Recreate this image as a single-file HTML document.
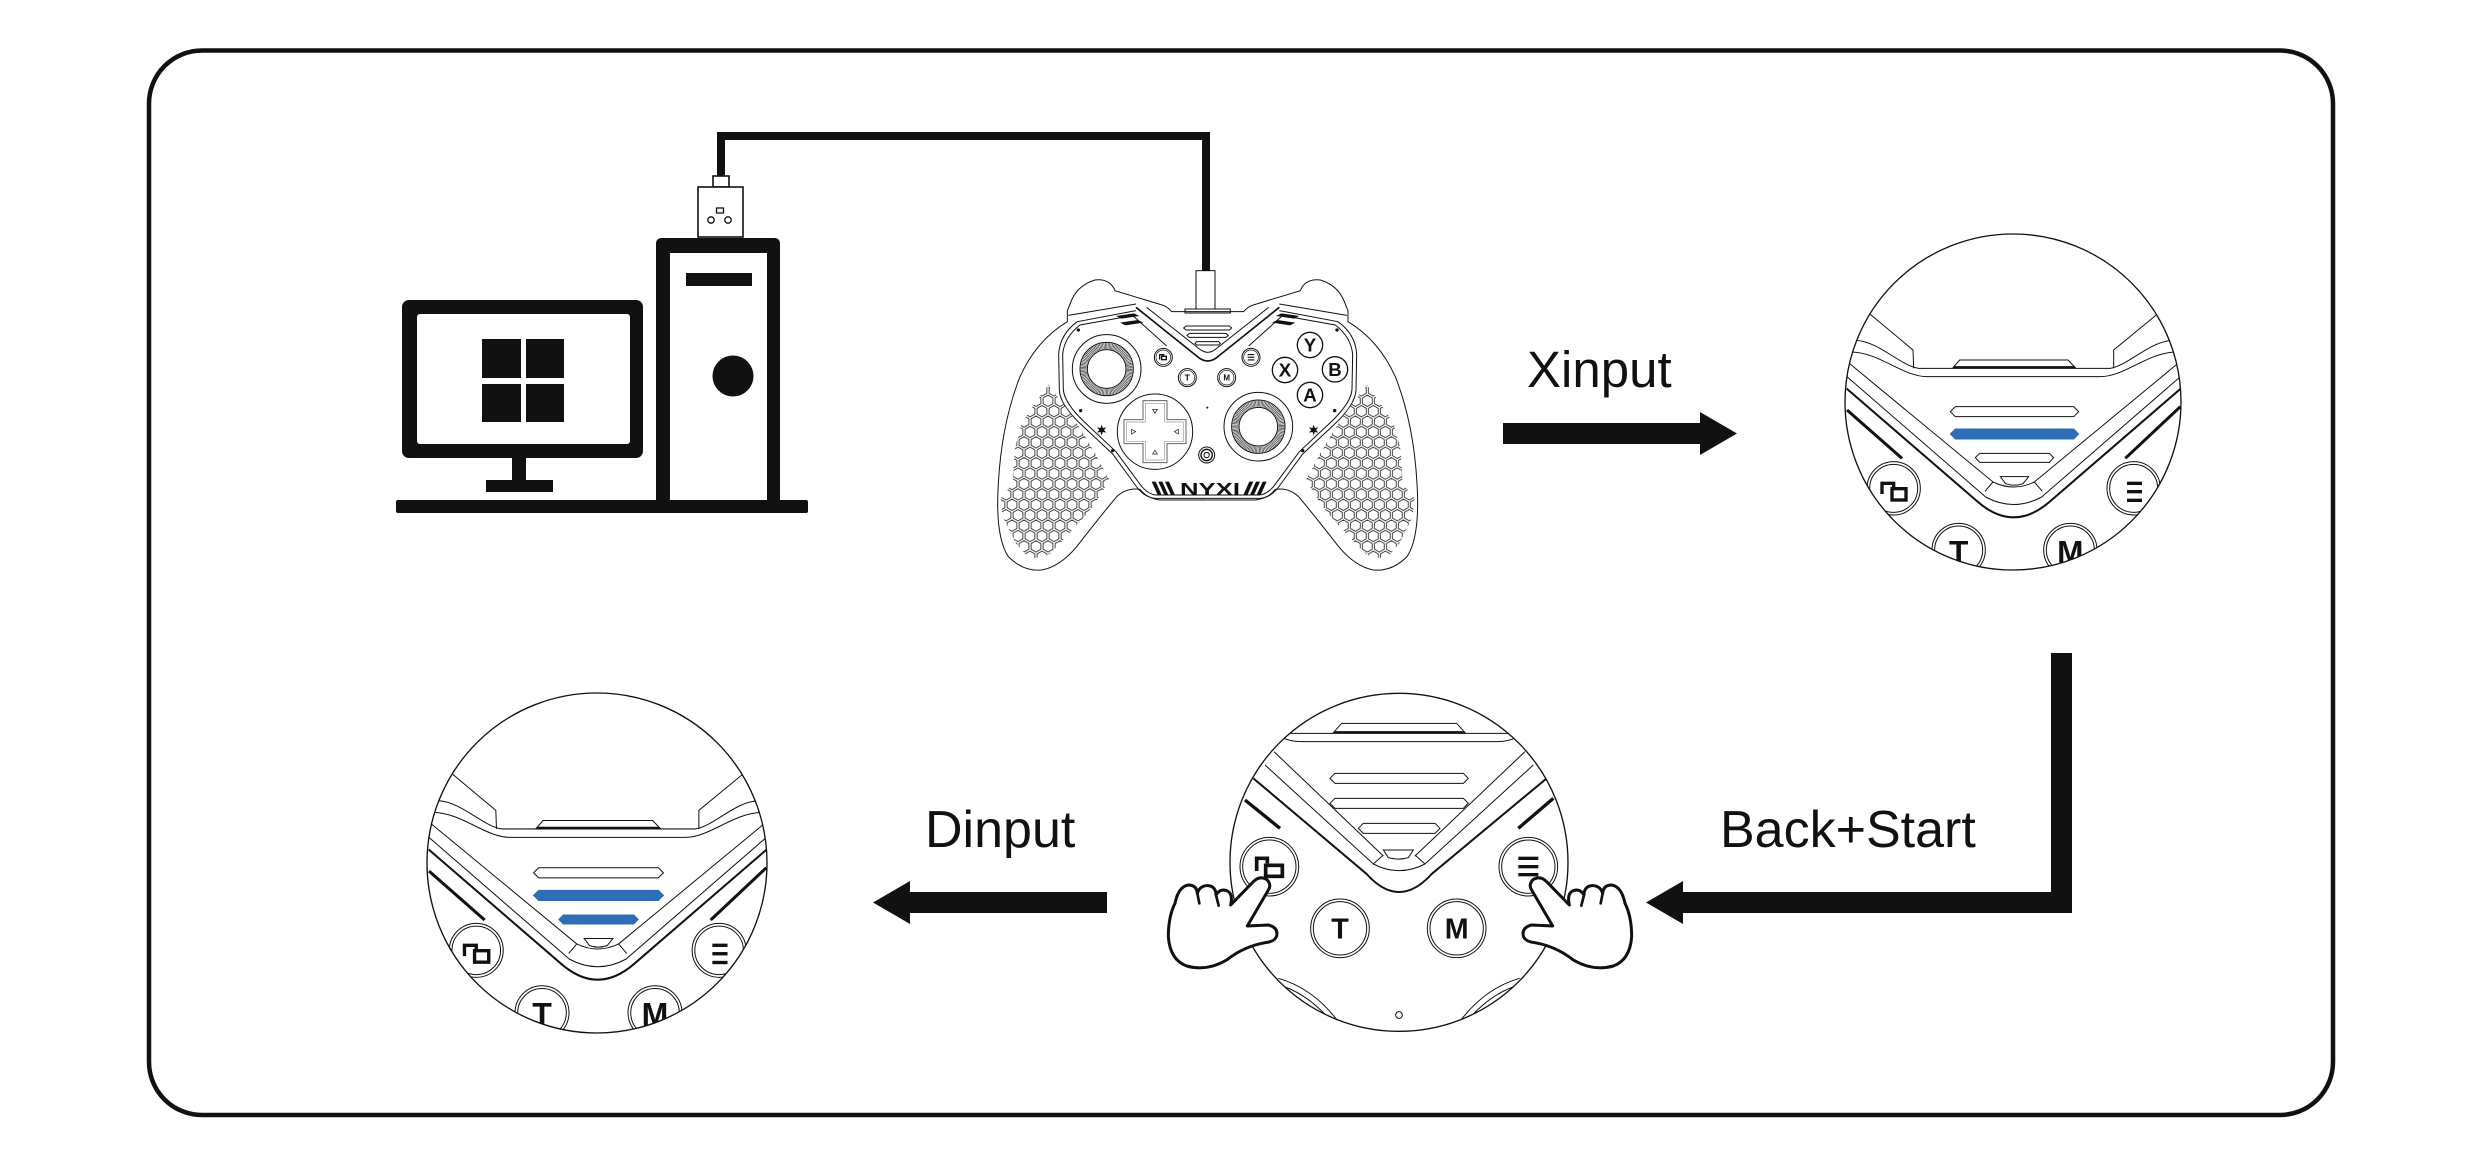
<!DOCTYPE html>
<html>
<head>
<meta charset="utf-8">
<style>
html,body{margin:0;padding:0;background:#fff;}
svg{display:block;}
text{font-family:"Liberation Sans",Arial,sans-serif;}
</style>
</head>
<body>
<svg width="2481" height="1166" viewBox="0 0 2481 1166" xmlns="http://www.w3.org/2000/svg">
<defs>
  <pattern id="hex" x="6" y="0" width="36" height="62.4" patternUnits="userSpaceOnUse">
    <g fill="#fff" stroke="#222" stroke-width="2.5">
      <path transform="translate(18,15.6)" d="M0,-17 L14.7,-8.5 L14.7,8.5 L0,17 L-14.7,8.5 L-14.7,-8.5Z"/>
      <path transform="translate(18,78)" d="M0,-17 L14.7,-8.5 L14.7,8.5 L0,17 L-14.7,8.5 L-14.7,-8.5Z"/>
      <path transform="translate(0,46.8)" d="M0,-17 L14.7,-8.5 L14.7,8.5 L0,17 L-14.7,8.5 L-14.7,-8.5Z"/>
      <path transform="translate(36,46.8)" d="M0,-17 L14.7,-8.5 L14.7,8.5 L0,17 L-14.7,8.5 L-14.7,-8.5Z"/>
      <path transform="translate(0,-15.6)" d="M0,-17 L14.7,-8.5 L14.7,8.5 L0,17 L-14.7,8.5 L-14.7,-8.5Z"/>
      <path transform="translate(36,-15.6)" d="M0,-17 L14.7,-8.5 L14.7,8.5 L0,17 L-14.7,8.5 L-14.7,-8.5Z"/>
    </g>
  </pattern>
  <clipPath id="cc"><circle cx="0" cy="0" r="504"/></clipPath>
  <clipPath id="cc5"><circle cx="747" cy="577" r="507"/></clipPath>

  <g id="det" fill="none" stroke="#111" stroke-width="3">
    <path d="M-428,-263 L-300,-156 L-298,-101"/>
    <path d="M432,-263 L302,-156 L302,-101"/>
    <path d="M-470,-185 C-400,-180 -340,-110 -283,-101 H292 C347,-110 407,-180 477,-185"/>
    <path d="M-484,-150 C-400,-148 -330,-76 -258,-76 H262 C334,-76 404,-148 488,-150"/>
    <polygon points="-180,-103 -160,-126 165,-126 187,-103"/>
    <path d="M-177,-104 H184" stroke-width="7"/>
    <path d="M-490,-115 L-60,240 Q2,270 64,240 L494,-115"/>
    <path d="M-497,-75 L-82,285 Q2,330 86,285 L501,-75"/>
    <path d="M-499,-40 L-105,300 Q2,392 109,300 L503,-40" stroke-width="6"/>
    <path d="M-60,240 L-84,268 M64,240 L88,268"/>
    <path d="M-498,24 L-333,169 M502,14 L337,169" stroke-width="9"/>
    <polygon points="-173,14 182,14 197,29 182,44 -173,44 -188,29"/>
    <polygon points="-173,81 182,81 197,96 182,111 -173,111 -188,96" fill="#2e6eb5" stroke="#2e6eb5"/>
    <path d="M-38,224 H47 L30,245 Q4,254 -22,245 Z"/>
    <g fill="#fff">
      <circle cx="-358" cy="259" r="80"/><circle cx="-358" cy="259" r="72"/>
      <circle cx="362" cy="259" r="80"/><circle cx="362" cy="259" r="72"/>
      <circle cx="-163" cy="444" r="80"/><circle cx="-163" cy="444" r="72"/>
      <circle cx="172" cy="444" r="80"/><circle cx="172" cy="444" r="72"/>
    </g>
    <path d="M-393,276 V244 H-358 V258" stroke-width="10"/>
    <rect x="-363" y="260" width="42" height="34" stroke-width="10"/>
    <g fill="#111" stroke="none">
      <rect x="342" y="239" width="45" height="10"/>
      <rect x="342" y="264" width="45" height="10"/>
      <rect x="342" y="290" width="45" height="10"/>
      <text x="-163" y="482" font-size="95" font-weight="bold" text-anchor="middle">T</text>
      <text x="172" y="482" font-size="95" font-weight="bold" text-anchor="middle">M</text>
    </g>
  </g>

  <g id="hand">
    <path d="M45,190 Q55,140 85,135 Q110,135 112,160 Q120,135 145,137 Q168,140 168,165 Q180,145 200,152 Q220,160 212,195 L280,125 Q300,105 322,120 Q335,135 325,150 L262,258 L325,255 Q355,262 350,288 Q345,305 315,308 Q250,320 200,360 Q140,395 80,378 Q30,360 25,290 Q25,230 45,190 Z" fill="#fff" stroke="#111" stroke-width="9" stroke-linejoin="round"/>
    <path d="M112,160 L118,190 M168,165 L176,197" fill="none" stroke="#111" stroke-width="8" stroke-linecap="round"/>
  </g>

  <g id="ch" fill="none" stroke="#111" stroke-width="3">
    <path d="M683,185 L575,185 Q562,168 540,163 L405,122 Q390,85 345,90 Q295,105 275,150 L262,182 L262,215 Q170,270 120,380 Q65,520 55,700 Q45,860 85,920 Q130,965 185,960 Q240,950 290,890 Q360,800 410,740 Q440,712 480,718 Q500,745 540,750 L683,750"/>
    <path d="M265,196 L468,162"/>
    <path d="M683,745 L525,745 Q492,742 468,708 L398,612 L305,525 Q240,465 238,420 L236,312 Q240,252 292,215 L468,182"/>
    <path d="M683,735 L528,735 Q500,732 478,700 L408,605 L315,518 Q252,458 250,418 L248,314 Q252,262 300,225 L468,195"/>
    <path d="M462,200 L560,288"/>
    <polygon points="205,405 245,455 300,535 345,610 388,690 345,762 300,815 250,870 205,915 150,928 108,880 68,800 62,745 98,700 104,600 125,520 168,455" fill="url(#hex)" stroke="none"/>
    <path d="M408,198 L462,190 L478,198 L424,206 Z M420,218 L474,210 L490,218 L436,226 Z" fill="#111" stroke="none"/>
    <path transform="translate(365,540)" d="M0,-16 L3.5,-6.06 L13.86,-8 L7,0 L13.86,8 L3.5,6.06 L0,16 L-3.5,6.06 L-13.86,8 L-7,0 L-13.86,-8 L-3.5,-6.06Z" fill="#111" stroke="none"/>
    <g fill="#111" stroke="none">
      <circle cx="295" cy="240" r="5"/><circle cx="302" cy="482" r="5"/><circle cx="398" cy="602" r="5"/>
    </g>
  </g>
</defs>

<rect x="149" y="50.5" width="2184" height="1064.5" rx="53" ry="53" fill="none" stroke="#111" stroke-width="4.5"/>

<g fill="#111">
  <rect x="402" y="300" width="241" height="158" rx="7"/>
  <rect x="417" y="314" width="213" height="130" rx="3" fill="#fff"/>
  <rect x="512" y="456" width="14" height="26"/>
  <rect x="486" y="480" width="67" height="12"/>
  <rect x="482" y="339" width="39" height="39"/>
  <rect x="526" y="339" width="38" height="39"/>
  <rect x="482" y="384" width="39" height="38"/>
  <rect x="526" y="384" width="38" height="38"/>
  <rect x="656" y="238" width="124" height="268" rx="5"/>
  <rect x="670" y="253" width="97" height="248" fill="#fff"/>
  <rect x="686" y="273" width="66" height="13"/>
  <circle cx="733" cy="376" r="20.5"/>
  <rect x="396" y="500" width="412" height="13" rx="2"/>
</g>
<path d="M721,177 V136 H1206 V272" fill="none" stroke="#111" stroke-width="8" stroke-linejoin="miter"/>
<rect x="713" y="176" width="16" height="11" fill="#fff" stroke="#111" stroke-width="1.6"/>
<rect x="698" y="187" width="45" height="50" fill="#fff" stroke="#111" stroke-width="1.6"/>
<rect x="716.5" y="208" width="7" height="5" fill="none" stroke="#111" stroke-width="1.3"/>
<circle cx="711" cy="220" r="3.2" fill="none" stroke="#111" stroke-width="1.3"/>
<circle cx="728" cy="220" r="3.2" fill="none" stroke="#111" stroke-width="1.3"/>

<g transform="translate(980,250) scale(0.33333)">
  <use href="#ch"/>
  <use href="#ch" transform="translate(1366,0) scale(-1,1)"/>
  <g fill="none" stroke="#111" stroke-width="3">
    <rect x="615" y="177" width="136" height="12"/>
    <rect x="648" y="62" width="57" height="115" fill="#fff"/>
    <path d="M468,172 L650,318 Q683,348 716,318 L898,172" stroke-width="5"/>
    <path d="M500,172 L657,296 Q683,318 709,296 L866,172"/>
    <polygon points="618,228 748,228 755,234 748,240 618,240 611,234"/>
    <polygon points="628,250 738,250 745,256 738,262 628,262 621,256"/>
    <polygon points="650,275 716,275 721,280 716,285 650,285 645,280"/>
    <circle cx="380" cy="357" r="103" fill="#fff"/>
    <circle cx="380" cy="357" r="80"/>
    <circle cx="380" cy="357" r="69" stroke-width="18" stroke="#333" stroke-dasharray="2 2"/>
    <circle cx="380" cy="357" r="58"/>
    <circle cx="835" cy="530" r="103" fill="#fff"/>
    <circle cx="835" cy="530" r="80"/>
    <circle cx="835" cy="530" r="69" stroke-width="18" stroke="#333" stroke-dasharray="2 2"/>
    <circle cx="835" cy="530" r="58"/>
    <circle cx="525" cy="545" r="113" fill="#fff"/>
    <path d="M489,452 H561 V509 H618 V581 H561 V638 H489 V581 H432 V509 H489 Z" stroke="#666" stroke-linejoin="round"/>
    <path d="M496,460 H554 V516 H610 V574 H554 V630 H496 V574 H440 V516 H496 Z" stroke="#999" stroke-width="2"/>
    <path d="M518,478 H532 L525,490 Z M518,612 H532 L525,600 Z M455,538 V552 L467,545 Z M595,538 V552 L583,545 Z" stroke-width="2"/>
    <circle cx="990" cy="285" r="38" stroke-width="4"/>
    <circle cx="915" cy="360" r="38" stroke-width="4"/>
    <circle cx="1065" cy="358" r="38" stroke-width="4"/>
    <circle cx="990" cy="435" r="38" stroke-width="4"/>
    <circle cx="550" cy="322" r="27"/><circle cx="550" cy="322" r="22" stroke-width="2"/>
    <circle cx="813" cy="322" r="27"/><circle cx="813" cy="322" r="22" stroke-width="2"/>
    <circle cx="622" cy="383" r="27"/><circle cx="622" cy="383" r="22" stroke-width="2"/>
    <circle cx="740" cy="383" r="27"/><circle cx="740" cy="383" r="22" stroke-width="2"/>
    <circle cx="680" cy="615" r="24"/><circle cx="680" cy="615" r="17" stroke-width="4"/>
    <circle cx="680" cy="615" r="8" stroke-width="3"/>
    <path d="M539,328 V314 H551 V318" stroke-width="4"/>
    <rect x="545" y="319" width="14" height="10" stroke-width="4"/>
  </g>
  <circle cx="682" cy="473" r="3" fill="#111"/>
  <g fill="#111">
    <rect x="803" y="312" width="20" height="3.5"/>
    <rect x="803" y="320" width="20" height="3.5"/>
    <rect x="803" y="328" width="20" height="3.5"/>
    <text x="622" y="392" font-size="26" font-weight="bold" text-anchor="middle">T</text>
    <text x="740" y="392" font-size="24" font-weight="bold" text-anchor="middle">M</text>
    <text x="990" y="305" font-size="56" font-weight="bold" text-anchor="middle">Y</text>
    <text x="915" y="380" font-size="56" font-weight="bold" text-anchor="middle">X</text>
    <text x="1065" y="378" font-size="56" font-weight="bold" text-anchor="middle">B</text>
    <text x="990" y="455" font-size="56" font-weight="bold" text-anchor="middle">A</text>
    <path d="M515,695 L527,695 L545,735 L533,735 Z M535,695 L547,695 L565,735 L553,735 Z M555,695 L567,695 L585,735 L573,735 Z"/>
    <path d="M808,695 L820,695 L802,735 L790,735 Z M828,695 L840,695 L822,735 L810,735 Z M848,695 L860,695 L842,735 L830,735 Z"/>
    <text x="600" y="735" font-size="52" font-weight="bold" textLength="180" lengthAdjust="spacingAndGlyphs">NYXI</text>
  </g>
</g>

<text x="1527" y="387" font-size="51" fill="#111">Xinput</text>
<polygon points="1503,423 1700,423 1700,412 1737,433.5 1700,455 1700,444 1503,444" fill="#111"/>

<g transform="translate(2013,402) scale(0.33333)">
  <circle r="504" fill="#fff"/>
  <g clip-path="url(#cc)">
    <use href="#det"/>
    <polygon points="-100,154 109,154 122,167 109,181 -100,181 -113,167" fill="none" stroke="#111" stroke-width="3"/>
  </g>
  <circle r="504" fill="none" stroke="#111" stroke-width="4"/>
</g>

<polygon points="2051,653 2072,653 2072,913 1683,913 1683,924 1646,902.5 1683,881 1683,892 2051,892" fill="#111"/>
<text x="1720" y="847" font-size="52" fill="#111">Back+Start</text>

<g transform="translate(1150,670) scale(0.33333)">
  <circle cx="747" cy="577" r="507" fill="#fff"/>
  <g clip-path="url(#cc5)" fill="none" stroke="#111" stroke-width="3">
    <polygon points="550,188 575,160 920,160 945,188"/>
    <path d="M552,187 H943" stroke-width="7"/>
    <path d="M390,200 Q420,215 455,215 H1040 Q1075,215 1105,200"/>
    <path d="M400,190 H1095"/>
    <path d="M372,245 L700,558 M1125,245 L795,558"/>
    <path d="M345,285 L670,582 Q747,622 825,582 L1150,285"/>
    <path d="M310,325 L650,612 Q747,720 845,612 L1190,325" stroke-width="6"/>
    <path d="M670,582 L700,555 M825,582 L795,555"/>
    <path d="M285,390 L390,475 M1210,385 L1105,475" stroke-width="10"/>
    <polygon points="555,310 940,310 955,325 940,340 555,340 540,325"/>
    <polygon points="555,385 940,385 955,400 940,415 555,415 540,400"/>
    <polygon points="640,460 855,460 870,475 855,490 640,490 625,475"/>
    <path d="M700,540 H790 L775,563 Q745,572 715,563 Z"/>
    <g fill="#fff">
      <circle cx="358" cy="590" r="88"/><circle cx="358" cy="590" r="80"/>
      <circle cx="1135" cy="590" r="88"/><circle cx="1135" cy="590" r="80"/>
      <circle cx="570" cy="775" r="88"/><circle cx="570" cy="775" r="80"/>
      <circle cx="920" cy="775" r="88"/><circle cx="920" cy="775" r="80"/>
    </g>
    <path d="M320,603 V565 H352 V580" stroke-width="11"/>
    <rect x="347" y="586" width="50" height="33" stroke-width="11"/>
    <path d="M385,925 Q490,955 565,1055 M378,942 Q475,968 550,1062"/>
    <path d="M1109,925 Q1004,955 929,1055 M1116,942 Q1019,968 944,1062"/>
    <circle cx="747" cy="1035" r="10"/>
  </g>
  <g fill="#111">
    <rect x="1105" y="560" width="60" height="10"/>
    <rect x="1105" y="585" width="60" height="10"/>
    <rect x="1105" y="609" width="60" height="10"/>
    <text x="570" y="806" font-size="86" font-weight="bold" text-anchor="middle">T</text>
    <text x="920" y="806" font-size="86" font-weight="bold" text-anchor="middle">M</text>
  </g>
  <circle cx="747" cy="577" r="507" fill="none" stroke="#111" stroke-width="4"/>
  <use href="#hand" transform="translate(30,510)"/>
  <use href="#hand" transform="translate(1500,0) scale(-1,1) translate(30,510)"/>
</g>

<text x="925" y="847" font-size="52" fill="#111">Dinput</text>
<polygon points="1107,892 910,892 910,881 873,902.5 910,924 910,913 1107,913" fill="#111"/>

<g transform="translate(597,863) scale(0.3373)">
  <circle r="504" fill="#fff"/>
  <g clip-path="url(#cc)">
    <use href="#det"/>
    <polygon points="-100,154 109,154 122,167 109,181 -100,181 -113,167" fill="#2e6eb5" stroke="#2e6eb5" stroke-width="3"/>
  </g>
  <circle r="504" fill="none" stroke="#111" stroke-width="4"/>
</g>
</svg>
</body>
</html>
